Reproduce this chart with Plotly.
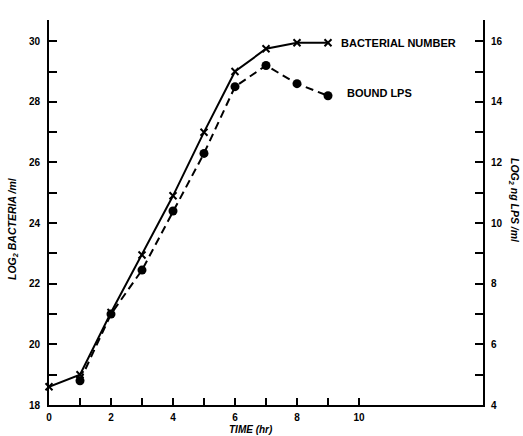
import plotly.graph_objects as go

time_bact = [0, 1, 2, 3, 4, 5, 6, 7, 8, 9]
log2_bacteria = [18.6, 19.0, 21.05, 22.95, 24.9, 27.0, 29.0, 29.75, 29.95, 29.95]

time_lps = [1, 2, 3, 4, 5, 6, 7, 8, 9]
log2_lps = [4.8, 7.0, 8.45, 10.4, 12.3, 14.5, 15.2, 14.6, 14.2]

x_tickvals = list(range(0, 11))
x_ticktext = [str(v) if v % 2 == 0 else " " for v in x_tickvals]
yl_tickvals = list(range(18, 31))
yl_ticktext = [str(v) if v % 2 == 0 else " " for v in yl_tickvals]
yr_tickvals = list(range(4, 17))
yr_ticktext = [str(v) if v % 2 == 0 else " " for v in yr_tickvals]

FONT = "Liberation Sans"

fig = go.Figure()
fig.add_trace(go.Scatter(
    x=time_bact, y=log2_bacteria, mode="lines+markers",
    line=dict(color="black", width=2),
    marker=dict(symbol="x-thin", size=7, line=dict(color="black", width=2), color="black"),
    showlegend=False, cliponaxis=False))
fig.add_trace(go.Scatter(
    x=time_lps, y=log2_lps, mode="lines+markers", yaxis="y2",
    line=dict(color="black", width=2, dash="8px,5px"),
    marker=dict(symbol="circle", size=9, color="black"),
    showlegend=False, cliponaxis=False))

tickfont = dict(family=FONT, size=10, color="black", weight="bold")

fig.update_layout(
    width=523, height=436,
    margin=dict(l=49, r=40, t=20, b=31, autoexpand=False),
    paper_bgcolor="white", plot_bgcolor="white",
    xaxis=dict(range=[0, 14], showline=True, linecolor="black", linewidth=2,
               showgrid=False, zeroline=False, ticks="inside", ticklen=7,
               tickwidth=1.5, tickcolor="black", tickvals=x_tickvals,
               ticktext=x_ticktext, tickfont=tickfont, ticklabelstandoff=2,
               automargin=False),
    yaxis=dict(range=[18, 30.7], showline=True, linecolor="black", linewidth=2,
               showgrid=False, zeroline=False, ticks="inside", ticklen=8,
               tickwidth=1.5, tickcolor="black", tickvals=yl_tickvals,
               ticktext=yl_ticktext, tickfont=tickfont, ticklabelstandoff=5,
               automargin=False),
    yaxis2=dict(range=[4, 16.7], overlaying="y", side="right", showline=True,
                linecolor="black", linewidth=2, showgrid=False, zeroline=False,
                ticks="inside", ticklen=8, tickwidth=1.5, tickcolor="black",
                tickvals=yr_tickvals, ticktext=yr_ticktext, tickfont=tickfont,
                ticklabelstandoff=4, automargin=False),
)

lab = dict(family=FONT, size=11, color="black", weight="bold")
fig.add_annotation(x=9.35, y=29.95, xref="x", yref="y", text="BACTERIAL NUMBER",
                   showarrow=False, xanchor="left", yanchor="middle", font=lab)
fig.add_annotation(x=9.55, y=28.3, xref="x", yref="y", text="BOUND LPS",
                   showarrow=False, xanchor="left", yanchor="middle", font=lab)

tit = dict(family=FONT, size=10.5, color="black", weight="bold", style="italic")
fig.add_annotation(x=13, y=229, xref="paper", yref="paper", text="LOG<sub>2</sub> BACTERIA /ml",
                   showarrow=False, textangle=-90, font=tit, xanchor="center", yanchor="middle")
fig.add_annotation(x=251, y=429, xref="paper", yref="paper", text="TIME (hr)",
                   showarrow=False, font=dict(family=FONT, size=10, color="black",
                                              weight="bold", style="italic"),
                   xanchor="center", yanchor="middle")
fig.add_annotation(x=514, y=200, xref="paper", yref="paper", text="LOG<sub>2</sub> ng LPS /ml",
                   showarrow=False, textangle=90, font=tit, xanchor="center", yanchor="middle")

# convert pixel positions to paper coords for the title annotations
W, H = 523, 436
l, r, t, b = 49, 40, 20, 31
pw, ph = W - l - r, H - t - b
for a in fig.layout.annotations[2:]:
    a.x = (a.x - l) / pw
    a.y = (H - b - a.y) / ph

fig.write_html("out.html", config={"displayModeBar": False},
               post_script="document.body.style.margin='0px';document.body.style.overflow='hidden';")
